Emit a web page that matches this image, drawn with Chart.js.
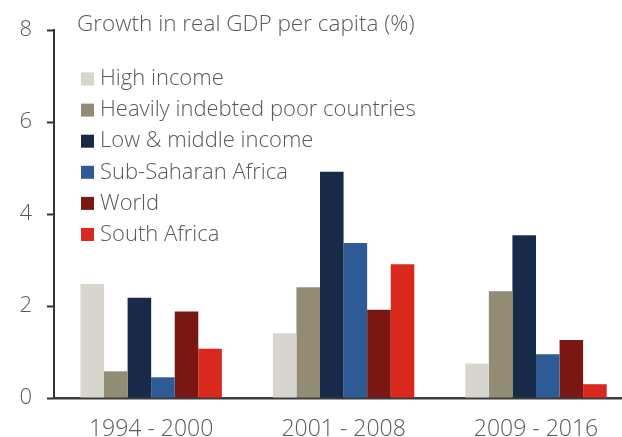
<!DOCTYPE html>
<html lang="en">
<head>
    <meta charset="UTF-8">
    <title>Growth in real GDP per capita</title>
    <script src="https://cdn.jsdelivr.net/npm/chart.js"></script>
    <style>
        body {
            margin: 0;
            background: #fff;
            overflow: hidden;
        }
        canvas {
            display: block;
        }
    </style>
</head>
<body>
    <canvas id="gdpChart" width="622" height="437"></canvas>

    <script>
        // Periods on the x axis
        const categories = ['1994 - 2000', '2001 - 2008', '2009 - 2016'];

        // Growth in real GDP per capita (%), one value per period
        const highIncome = [2.48, 1.41, 0.75];
        const heavilyIndebted = [0.58, 2.41, 2.32];
        const lowMiddleIncome = [2.18, 4.92, 3.54];
        const subSaharanAfrica = [0.45, 3.37, 0.95];
        const world = [1.88, 1.92, 1.26];
        const southAfrica = [1.07, 2.91, 0.30];

        const seriesNames = ['High income', 'Heavily indebted poor countries', 'Low & middle income',
                             'Sub-Saharan Africa', 'World', 'South Africa'];
        const yTicks = [0, 2, 4, 6, 8];
        const chartTitle = 'Growth in real GDP per capita (%)';

        const FONT = '"Open Sans", Lato, sans-serif';
        const TEXT_GREY = '#595959';
        const colors = ['#d8d5ce', '#938c75', '#172b49', '#2e5b96', '#7b1713', '#d9291f'];
        const allSeries = [highIncome, heavilyIndebted, lowMiddleIncome, subSaharanAfrica, world, southAfrica];

        const datasets = allSeries.map((values, i) => ({
            label: seriesNames[i],
            data: values.map((v, idx) => ({ x: idx, y: v })),
            backgroundColor: colors[i],
            borderWidth: 0,
            categoryPercentage: 0.735,
            barPercentage: 1.0
        }));

        // title and legend sit inside the plot area, top left
        const headerPlugin = {
            id: 'header',
            afterDraw(chart) {
                const ctx = chart.ctx;
                ctx.save();
                ctx.fillStyle = TEXT_GREY;
                ctx.textAlign = 'left';
                ctx.textBaseline = 'middle';
                ctx.font = '300 22.5px ' + FONT;
                ctx.fillText(chartTitle, 77, 25);

                ctx.font = '300 22px ' + FONT;
                chart.data.datasets.forEach((ds, i) => {
                    const cy = 79 + i * 31.1;
                    ctx.fillStyle = ds.backgroundColor;
                    ctx.fillRect(81, cy - 6.5, 13, 13);
                    ctx.fillStyle = TEXT_GREY;
                    ctx.fillText(ds.label, 100, cy);
                });
                ctx.restore();
            }
        };

        new Chart(document.getElementById('gdpChart'), {
            type: 'bar',
            data: { datasets: datasets },
            options: {
                responsive: false,
                animation: false,
                devicePixelRatio: 1,
                layout: { padding: { top: 30, right: 0, bottom: 0, left: 0 } },
                plugins: {
                    legend: { display: false },
                    tooltip: { enabled: false }
                },
                scales: {
                    x: {
                        type: 'linear',
                        offset: false,
                        min: -0.505,
                        max: 2.447,
                        grid: { display: false },
                        border: { display: true, color: '#3c3c3c', width: 2.5 },
                        ticks: {
                            stepSize: 1,
                            includeBounds: false,
                            autoSkip: false,
                            maxRotation: 0,
                            padding: 10,
                            color: TEXT_GREY,
                            font: { family: FONT, size: 23, weight: '300' },
                            callback: (v) => categories[v] !== undefined ? categories[v] : ''
                        },
                        afterFit: (scale) => { scale.height = 39; }
                    },
                    y: {
                        min: 0,
                        max: 8,
                        grid: {
                            drawOnChartArea: false,
                            drawTicks: true,
                            tickLength: 7,
                            tickWidth: 2,
                            tickColor: '#333'
                        },
                        border: { display: true, color: '#333', width: 2 },
                        afterBuildTicks: (scale) => {
                            scale.ticks = yTicks.map(v => ({ value: v }));
                        },
                        ticks: {
                            padding: 15,
                            color: TEXT_GREY,
                            font: { family: FONT, size: 22, weight: '300' }
                        },
                        afterFit: (scale) => { scale.width = 54; }
                    }
                }
            },
            plugins: [headerPlugin]
        });
    </script>
</body>
</html>
